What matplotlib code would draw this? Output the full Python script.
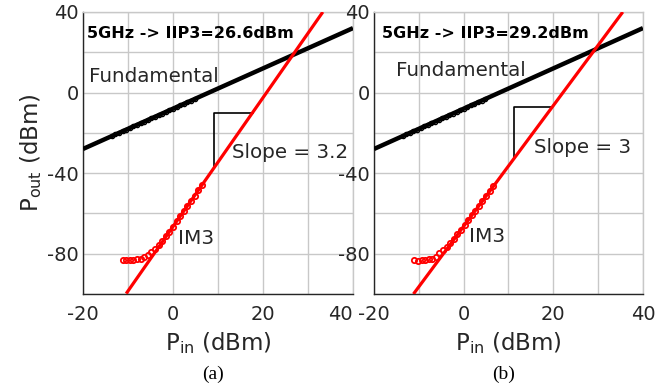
import matplotlib
matplotlib.use("Agg")
import matplotlib.pyplot as plt

plt.rcParams['font.family'] = ['DejaVu Sans']
plt.rcParams['mathtext.fontset'] = 'dejavusans'
plt.rcParams['axes.unicode_minus'] = False

# ---------------- data ----------------
xticks = [-20, 0, 20, 40]
yticks = [-80, -40, 0, 40]

# panel (a)
a_fund_pin = [-13.6, -12.8, -12.0, -11.2, -10.4, -9.6, -8.8, -8.0, -7.2, -6.4, -5.6, -4.8,
              -4.0, -3.2, -2.4, -1.6, -0.8, 0.0, 0.8, 1.6, 2.4, 3.2, 4.0, 4.8]
a_fund_pout = [-21.6, -20.8, -20.0, -19.2, -18.4, -17.6, -16.8, -16.0, -15.2, -14.4, -13.6, -12.8,
               -12.0, -11.2, -10.4, -9.6, -8.8, -8.0, -7.2, -6.4, -5.6, -4.8, -4.0, -3.2]
a_im3_pin = [-11.2, -10.4, -9.6, -8.8, -8.0, -7.2, -6.4, -5.6, -4.8, -4.0, -3.2, -2.4,
             -1.6, -0.8, 0.0, 0.8, 1.6, 2.4, 3.2, 4.0, 4.8, 5.6, 6.4]
a_im3_pout = [-83.0, -83.3, -83.1, -82.9, -82.7, -82.4, -81.8, -80.8, -79.0, -77.5, -75.6, -73.6,
              -71.3, -69.0, -66.5, -64.0, -61.4, -58.8, -56.3, -53.7, -51.2, -48.6, -46.0]
a_fund_line_x = [-20, 40]
a_fund_line_y = [-28, 32]
a_im3_line_x = [-10.4, 33.3]
a_im3_line_y = [-99.8, 40]
a_slope_x = [9.2, 9.2, 17.7]
a_slope_y = [-37.0, -10.0, -10.0]
a_title = "5GHz -> IIP3=26.6dBm"
a_slope_label = "Slope = 3.2"

# panel (b)
b_fund_pin = a_fund_pin
b_fund_pout = a_fund_pout
b_im3_pin = [-11.0, -10.2, -9.4, -8.6, -7.8, -7.0, -6.2, -5.4, -4.6, -3.8, -3.0, -2.2,
             -1.4, -0.6, 0.2, 1.0, 1.8, 2.6, 3.4, 4.2, 5.0, 5.8, 6.6]
b_im3_pout = [-83.3, -83.5, -83.2, -83.0, -82.8, -82.4, -81.5, -79.6, -78.0, -76.5, -74.8, -72.6,
              -70.4, -68.2, -65.8, -63.4, -61.0, -58.6, -56.2, -53.8, -51.4, -49.0, -46.6]
b_fund_line_x = [-20, 40]
b_fund_line_y = [-28, 32]
b_im3_line_x = [-11.2, 35.5]
b_im3_line_y = [-100, 40]
b_slope_x = [11.3, 11.3, 19.8]
b_slope_y = [-32.5, -7.0, -7.0]
b_title = "5GHz -> IIP3=29.2dBm"
b_slope_label = "Slope = 3"

# ---------------- plotting ----------------
fig = plt.figure(figsize=(6.64, 3.88), dpi=100)
axA = fig.add_axes([0.125, 0.2423, 0.4066, 0.7268])
axB = fig.add_axes([0.5633, 0.2423, 0.405, 0.7268])

tc = '#262626'
gc = '#c8c8c8'

def draw(ax, fpin, fpout, ipin, ipout, flx, fly, ilx, ily, sx, sy, title, slabel,
         title_x, fund_xy, slope_xy, im3_xy, caption):
    ax.set_xlim(-20, 40)
    ax.set_ylim(-100, 40)
    ax.set_xticks(xticks)
    ax.set_yticks(yticks)
    ax.set_xticks([-10, 10, 30], minor=True)
    ax.set_yticks([-100, -60, -20, 20], minor=True)
    ax.grid(True, which='both', color=gc, lw=1.0)
    ax.set_axisbelow(True)
    ax.tick_params(which='both', length=0, labelsize=14, colors=tc)
    ax.tick_params(axis='x', pad=8)
    ax.tick_params(axis='y', pad=3)
    for s in ['top', 'right']:
        ax.spines[s].set_color(gc)
        ax.spines[s].set_linewidth(1.0)
    for s in ['left', 'bottom']:
        ax.spines[s].set_color(tc)
        ax.spines[s].set_linewidth(1.0)

    ax.plot(flx, fly, color='black', lw=3.2, solid_capstyle='butt', zorder=3)
    ax.plot(fpin, fpout, 'o', mfc='none', mec='black', ms=3.0, mew=1.0, zorder=3)
    ax.plot(ilx, ily, color='red', lw=2.3, solid_capstyle='butt', zorder=4)
    ax.plot(ipin, ipout, 'o', mfc='none', mec='red', ms=3.8, mew=1.3, zorder=4)
    ax.plot(sx, sy, color='black', lw=1.2, zorder=2)

    ax.text(title_x, 29.5, title, fontsize=11.5,
            fontweight='bold', va='center', ha='left', color='black')
    ax.text(fund_xy[0], fund_xy[1], 'Fundamental', fontsize=14.3, va='center',
            ha='left', color=tc)
    ax.text(slope_xy[0], slope_xy[1], slabel, fontsize=14.3, va='center',
            ha='left', color=tc)
    ax.text(im3_xy[0], im3_xy[1], 'IM3', fontsize=14.5, va='center',
            ha='left', color=tc)
    ax.set_xlabel(r'P$_{\mathrm{in}}$ (dBm)', fontsize=16.5, color=tc, labelpad=4)
    ax.text(0.48, -0.285, caption, transform=ax.transAxes, ha='center', va='center',
            fontsize=14, family='Liberation Serif', color='black')

draw(axA, a_fund_pin, a_fund_pout, a_im3_pin, a_im3_pout, a_fund_line_x, a_fund_line_y,
     a_im3_line_x, a_im3_line_y, a_slope_x, a_slope_y, a_title, a_slope_label,
     -19.0, (-18.7, 8), (13.1, -30), (1.1, -72.5), '(a)')
draw(axB, b_fund_pin, b_fund_pout, b_im3_pin, b_im3_pout, b_fund_line_x, b_fund_line_y,
     b_im3_line_x, b_im3_line_y, b_slope_x, b_slope_y, b_title, b_slope_label,
     -18.2, (-15.1, 11), (15.8, -27.5), (1.1, -71.5), '(b)')
axA.set_ylabel(r'P$_{\mathrm{out}}$ (dBm)', fontsize=16.5, color=tc, labelpad=2)

fig.canvas.draw()
axA.get_xticklabels()[-1].set_ha('right')

fig.savefig('out.png', dpi=100)
